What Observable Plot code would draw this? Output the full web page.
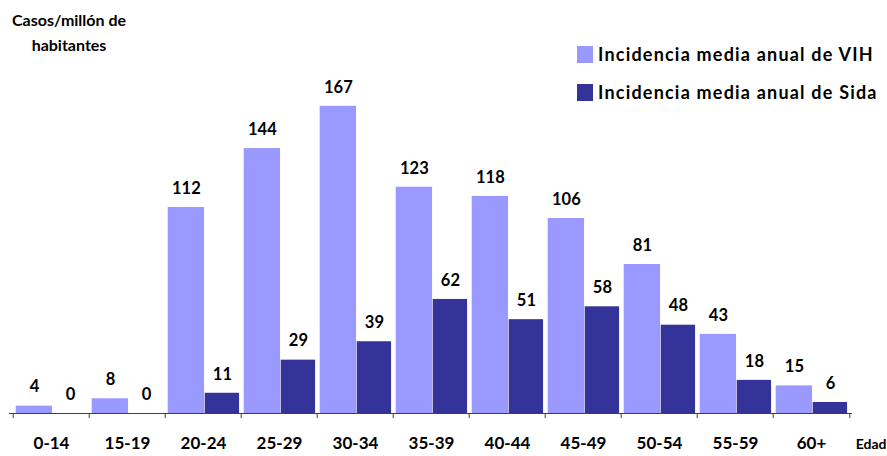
<!DOCTYPE html>
<html>
<head>
<meta charset="utf-8">
<script src="https://cdn.jsdelivr.net/npm/d3@7"></script>
<script src="https://cdn.jsdelivr.net/npm/@observablehq/plot@0.6"></script>
<style>
  html, body { margin: 0; padding: 0; background: #fff; }
  #wrap { position: relative; width: 887px; height: 456px; font-family: Lato, "Open Sans", sans-serif; font-weight: bold; color: #000; }
  #wrap svg { position: absolute; left: 0; top: 0; }
  .title { position: absolute; left: 0; top: 7px; width: 138px; text-align: center; font-size: 16px; line-height: 25px; }
  .legend { position: absolute; left: 577px; top: 44px; font-size: 18px; letter-spacing: 1.2px; }
  .legend div { display: flex; align-items: center; height: 20px; margin-bottom: 18px; white-space: nowrap; }
  .legend span.sw { display: inline-block; width: 16px; height: 17px; margin-right: 5px; }
</style>
</head>
<body>
<div id="wrap">
  <div class="title">Casos/millón de<br>habitantes</div>
  <div class="legend">
    <div><span class="sw" style="background:#9999FF"></span>Incidencia media anual de VIH</div>
    <div><span class="sw" style="background:#333399"></span>Incidencia media anual de Sida</div>
  </div>
</div>
<script>
const ages = ["0-14","15-19","20-24","25-29","30-34","35-39","40-44","45-49","50-54","55-59","60+"];
const vih  = [4, 8, 112, 144, 167, 123, 118, 106, 81, 43, 15];
const sida = [0, 0, 11, 29, 39, 62, 51, 58, 48, 18, 6];
const xLabelEnd = "Edad";

const colorVIH = "#9999FF";
const colorSida = "#333399";

const W = 887, H = 456, mL = 9, mR = 35, mB = 43, mT = 0;
const bw = (W - mL - mR) / ages.length;

const dataV = ages.map((a, i) => ({age: a, v: vih[i]}));
const dataS = ages.map((a, i) => ({age: a, v: sida[i]}));

const chart = Plot.plot({
  width: W, height: H,
  marginLeft: mL, marginRight: mR, marginBottom: mB, marginTop: mT,
  style: {fontFamily: "Lato, 'Open Sans', sans-serif", background: "transparent", overflow: "visible"},
  x: {domain: ages, padding: 0, axis: null},
  y: {domain: [0, 224.5], axis: null},
  marks: [
    Plot.barY(dataV, {x: "age", y: "v", fill: colorVIH, insetLeft: bw * 0.035, insetRight: bw * 0.482}),
    Plot.barY(dataS, {x: "age", y: "v", fill: colorSida, insetLeft: bw * 0.518, insetRight: bw * 0.025}),
    Plot.text(dataV, {x: "age", y: "v", text: d => String(d.v), dx: -bw * 0.223, dy: -19, fontSize: 16.5, fontWeight: "bold", fill: "#000"}),
    Plot.text(dataS, {x: "age", y: "v", text: d => String(d.v), dx: bw * 0.247, dy: -19, fontSize: 16.5, fontWeight: "bold", fill: "#000"}),
    Plot.ruleY([0], {stroke: "#404040"}),
    Plot.ruleX(ages, {x: d => d, dx: -bw / 2, y1: 0, y2: -2.8, stroke: "#404040"}),
    Plot.ruleX([ages[ages.length - 1]], {x: d => d, dx: bw / 2, y1: 0, y2: -2.8, stroke: "#404040"}),
    Plot.text(ages, {x: d => d, frameAnchor: "bottom", dy: 35, fontSize: 17, fontWeight: "bold", fill: "#000"}),
    Plot.text([xLabelEnd], {frameAnchor: "bottom-right", dx: 34, dy: 35, textAnchor: "end", fontSize: 14, fontWeight: "bold", fill: "#000"})
  ]
});
document.getElementById("wrap").prepend(chart);
</script>
</body>
</html>
